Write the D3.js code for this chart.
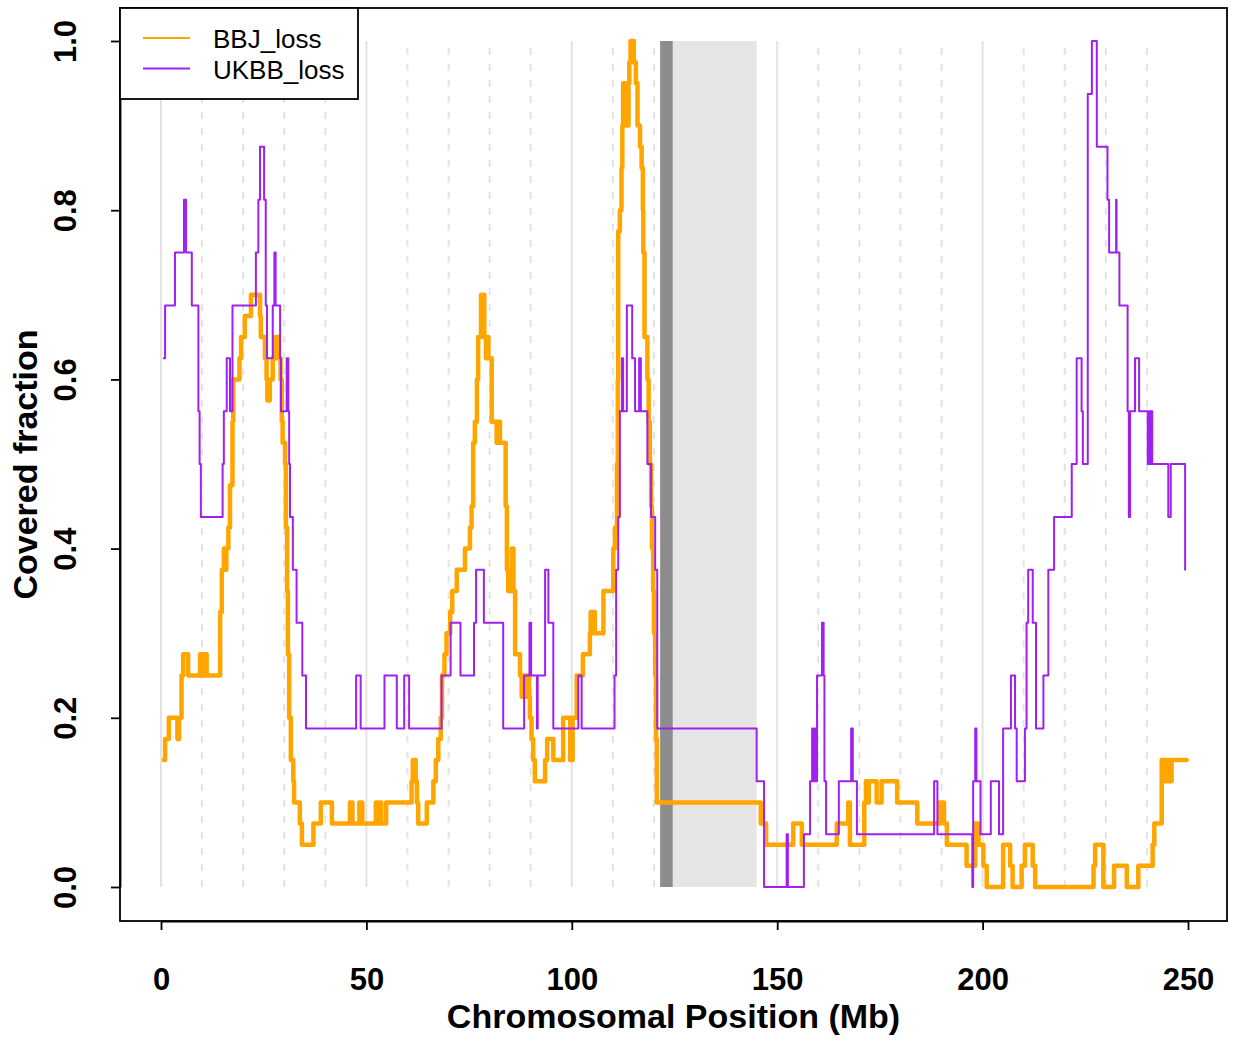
<!DOCTYPE html>
<html><head><meta charset="utf-8">
<script src="https://cdn.jsdelivr.net/npm/d3@7"></script>
<style>body{margin:0;background:#fff} text{font-family:"Liberation Sans",Arial,Helvetica,sans-serif}</style>
</head><body><svg id="c" width="1234" height="1038"></svg>
<script>
// ---- data: [position (Mb), covered fraction] step starts ----
const seriesNames = ["BBJ_loss", "UKBB_loss"];
const seriesColors = ["#FFA500", "#A020F0"];
const bbjSteps = [[0.7,0.15],[1.0,0.175],[1.9,0.2],[4.0,0.175],[4.4,0.2],[5.0,0.25],[5.4,0.275],[6.6,0.25],[9.5,0.275],[10.2,0.25],[10.7,0.275],[11.1,0.25],[14.4,0.325],[14.8,0.375],[15.3,0.4],[15.7,0.375],[15.9,0.4],[16.4,0.425],[16.8,0.475],[17.4,0.55],[17.6,0.6],[19.1,0.625],[19.5,0.65],[20.4,0.675],[21.9,0.7],[24.1,0.675],[24.3,0.65],[25.3,0.625],[25.7,0.6],[25.9,0.575],[26.5,0.6],[27.2,0.625],[27.8,0.65],[28.6,0.625],[29.1,0.6],[29.4,0.55],[29.6,0.525],[30.2,0.5],[30.4,0.425],[30.7,0.35],[30.9,0.275],[31.2,0.2],[31.6,0.15],[32.2,0.125],[32.4,0.1],[33.8,0.075],[34.3,0.05],[37.1,0.075],[38.9,0.1],[41.6,0.075],[46.0,0.1],[46.6,0.075],[48.3,0.1],[49.0,0.075],[52.3,0.1],[52.7,0.075],[53.1,0.1],[53.6,0.075],[54.8,0.1],[61.0,0.125],[61.3,0.15],[62.0,0.125],[62.3,0.1],[62.6,0.075],[64.7,0.1],[66.3,0.125],[66.9,0.15],[67.5,0.175],[68.1,0.2],[68.4,0.25],[69.0,0.275],[69.5,0.3],[70.4,0.325],[70.9,0.35],[72.0,0.375],[74.0,0.4],[75.2,0.425],[75.6,0.45],[76.0,0.525],[76.4,0.55],[76.9,0.6],[77.2,0.65],[77.9,0.7],[78.7,0.65],[79.1,0.625],[79.4,0.65],[79.7,0.625],[80.5,0.55],[81.7,0.525],[82.1,0.55],[82.5,0.525],[83.9,0.45],[84.2,0.375],[84.5,0.35],[84.7,0.375],[85.0,0.35],[85.4,0.4],[85.8,0.35],[86.2,0.275],[87.4,0.25],[87.8,0.225],[88.4,0.25],[88.6,0.225],[89.1,0.25],[89.6,0.225],[89.8,0.2],[90.2,0.175],[90.6,0.15],[91.0,0.125],[93.5,0.15],[94.0,0.175],[95.5,0.15],[97.9,0.2],[99.6,0.15],[100.2,0.2],[101.2,0.25],[102.7,0.275],[104.4,0.3],[104.6,0.325],[104.9,0.3],[105.2,0.325],[105.6,0.3],[107.7,0.35],[110.1,0.4],[110.5,0.425],[111.0,0.5],[111.2,0.6],[111.3,0.775],[111.7,0.8],[112.1,0.85],[112.3,0.9],[112.5,0.95],[113.2,0.9],[113.8,0.95],[114.0,0.975],[114.3,1.0],[115.1,0.975],[115.6,0.95],[116.0,0.9],[116.6,0.875],[117.0,0.85],[117.3,0.8],[117.4,0.75],[117.7,0.65],[118.4,0.6],[118.7,0.55],[119.0,0.5],[119.3,0.45],[119.5,0.4],[119.8,0.35],[120.0,0.3],[120.3,0.25],[120.5,0.175],[120.7,0.1],[146.0,0.075],[147.3,0.05],[153.9,0.075],[156.0,0.05],[164.5,0.075],[167.3,0.1],[167.7,0.05],[171.2,0.1],[171.6,0.125],[172.0,0.1],[172.3,0.125],[174.2,0.1],[175.4,0.125],[179.2,0.1],[184.1,0.075],[189.6,0.1],[190.6,0.075],[191.3,0.05],[196.1,0.025],[198.2,0.075],[199.0,0.05],[200.2,0.025],[201.0,0],[205.0,0.05],[206.7,0.025],[207.3,0],[209.5,0.025],[210.3,0.05],[212.2,0.025],[212.8,0],[227.0,0.025],[227.4,0.05],[229.4,0],[232.0,0.025],[235.1,0],[237.9,0.025],[241.4,0.05],[241.8,0.075],[243.6,0.15],[244.2,0.125],[244.6,0.15],[244.9,0.125],[245.4,0.15],[245.6,0.125],[246.0,0.15],[249.7,0.15]];
const ukbbSteps = [[0.7,0.625],[1.0,0.6875],[3.4,0.75],[5.6,0.8125],[6.1,0.75],[7.5,0.6875],[9.1,0.5625],[9.4,0.5],[9.7,0.4375],[15.0,0.5],[15.3,0.5625],[16.0,0.625],[16.8,0.5625],[17.4,0.6875],[23.1,0.75],[23.7,0.8125],[24.1,0.875],[25.1,0.8125],[25.5,0.6875],[25.8,0.625],[27.2,0.6875],[27.6,0.75],[27.9,0.6875],[29.0,0.625],[29.2,0.5625],[30.6,0.625],[31.0,0.5625],[31.2,0.5],[31.4,0.4375],[32.1,0.375],[33.0,0.3125],[34.4,0.25],[35.3,0.1875],[47.5,0.25],[48.6,0.1875],[54.4,0.25],[57.4,0.1875],[59.2,0.25],[60.4,0.1875],[68.3,0.25],[70.5,0.3125],[72.9,0.25],[76.2,0.3125],[76.7,0.375],[78.6,0.3125],[83.3,0.1875],[88.4,0.25],[89.7,0.3125],[90.1,0.25],[91.5,0.1875],[91.7,0.25],[93.5,0.375],[94.3,0.3125],[95.5,0.1875],[101.6,0.25],[102.4,0.1875],[110.4,0.25],[110.8,0.375],[111.3,0.4375],[111.7,0.5625],[112.2,0.625],[112.5,0.5625],[113.4,0.6875],[114.7,0.625],[115.4,0.5625],[116.4,0.625],[116.8,0.5625],[118.4,0.5],[119.3,0.4375],[120.3,0.375],[120.8,0.1875],[145.0,0.125],[146.8,0],[152.3,0.0625],[152.6,0],[156.5,0.0625],[158.0,0.125],[158.5,0.1875],[158.7,0.125],[159.0,0.1875],[159.3,0.125],[159.7,0.25],[160.9,0.3125],[161.3,0.25],[161.5,0.125],[161.9,0.0625],[165.0,0.125],[168.0,0.1875],[168.4,0.125],[169.4,0.0625],[188.2,0.125],[189.0,0.0625],[197.5,0],[197.7,0.125],[198.2,0.1875],[198.5,0.125],[199.5,0.0625],[202.0,0.125],[204.0,0.0625],[205.0,0.1875],[206.9,0.25],[207.9,0.1875],[208.3,0.125],[210.3,0.1875],[210.7,0.3125],[211.1,0.375],[212.2,0.3125],[213.0,0.1875],[214.8,0.25],[216.0,0.375],[217.4,0.4375],[221.7,0.5],[222.9,0.625],[224.1,0.5625],[224.4,0.5],[225.6,0.9375],[226.6,1.0],[227.8,0.875],[230.4,0.8125],[230.8,0.75],[232.5,0.8125],[232.6,0.75],[233.3,0.6875],[235.3,0.5625],[235.6,0.4375],[235.9,0.5625],[237.1,0.625],[238.1,0.5625],[240.2,0.5],[240.5,0.5625],[240.8,0.5],[241.0,0.5625],[241.3,0.5],[245.2,0.4375],[245.8,0.5],[249.3,0.375]];
const centromere = [121.5, 124.6];
const heterochromatin = [124.6, 145.0];
const xTicks = [0, 50, 100, 150, 200, 250];
const yTicks = [0, 0.2, 0.4, 0.6, 0.8, 1.0];
const gridPositions = d3.range(0, 250, 10);
const xTitle = "Chromosomal Position (Mb)";
const yTitle = "Covered fraction";

// ---- drawing ----
const svg = d3.select("#c");
const box = {left: 120, top: 8, right: 1227, bottom: 921};
const x = d3.scaleLinear().domain([0, 250]).range([161, 1188]);
const y = d3.scaleLinear().domain([0, 1]).range([887, 41]);

svg.append("rect").attr("width", 1234).attr("height", 1038).attr("fill", "#fff");

// grid
svg.append("g").selectAll("line").data(gridPositions).join("line")
  .attr("x1", d => x(d)).attr("x2", d => x(d))
  .attr("y1", y(0)).attr("y2", y(1))
  .attr("stroke", "#e3e3e3").attr("stroke-width", 2)
  .attr("stroke-dasharray", d => d % 50 === 0 ? null : "7,9");

// centromere / heterochromatin
svg.append("rect").attr("x", x(centromere[0])).attr("width", x(centromere[1]) - x(centromere[0]))
  .attr("y", y(1)).attr("height", y(0) - y(1)).attr("fill", "#8c8c8c");
svg.append("rect").attr("x", x(heterochromatin[0])).attr("width", x(heterochromatin[1]) - x(heterochromatin[0]))
  .attr("y", y(1)).attr("height", y(0) - y(1)).attr("fill", "#e5e5e5");

const line = d3.line().x(d => x(d[0])).y(d => y(d[1])).curve(d3.curveStepAfter);
svg.append("path").datum(bbjSteps).attr("d", line).attr("fill", "none")
  .attr("stroke", seriesColors[0]).attr("stroke-width", 4.5)
  .attr("stroke-linejoin", "round").attr("stroke-linecap", "round");
svg.append("path").datum(ukbbSteps).attr("d", line).attr("fill", "none")
  .attr("stroke", seriesColors[1]).attr("stroke-width", 2)
  .attr("stroke-linejoin", "round").attr("stroke-linecap", "round");

// box
svg.append("rect").attr("x", box.left).attr("y", box.top)
  .attr("width", box.right - box.left).attr("height", box.bottom - box.top)
  .attr("fill", "none").attr("stroke", "#000").attr("stroke-width", 1.8);

// axes
const xAxis = svg.append("g").attr("transform", `translate(0,${box.bottom})`)
  .call(d3.axisBottom(x).tickValues(xTicks).tickSize(9).tickSizeOuter(0).tickPadding(38).tickFormat(d3.format("d")));
xAxis.selectAll("path,line").attr("stroke", "#000").attr("stroke-width", 1.8);
xAxis.selectAll("text").attr("font-size", 31).attr("font-weight", "bold").attr("fill", "#000")
  .attr("font-family", "'Liberation Sans',Arial,sans-serif");

const yAxis = svg.append("g").attr("transform", `translate(${box.left},0)`)
  .call(d3.axisLeft(y).tickValues(yTicks).tickSize(9).tickSizeOuter(0).tickFormat(d3.format(".1f")));
yAxis.selectAll("path,line").attr("stroke", "#000").attr("stroke-width", 1.8);
yAxis.selectAll("text").attr("x", 0).attr("y", 0).attr("dy", 0)
  .attr("text-anchor", "middle").attr("transform", "translate(-44,0) rotate(-90)")
  .attr("font-size", 31).attr("font-weight", "bold").attr("fill", "#000")
  .attr("font-family", "'Liberation Sans',Arial,sans-serif");

svg.append("text").attr("x", (box.left + box.right) / 2).attr("y", 1028)
  .attr("text-anchor", "middle").attr("font-size", 34).attr("font-weight", "bold").text(xTitle);
svg.append("text").attr("transform", `translate(37,${(box.top + box.bottom) / 2}) rotate(-90)`)
  .attr("text-anchor", "middle").attr("font-size", 34).attr("font-weight", "bold").text(yTitle);

// legend
const lg = svg.append("g");
lg.append("rect").attr("x", 120).attr("y", 8).attr("width", 238).attr("height", 91)
  .attr("fill", "#fff").attr("stroke", "#000").attr("stroke-width", 1.8);
seriesNames.forEach((n, i) => {
  const ly = 38 + i * 30.5;
  lg.append("line").attr("x1", 143).attr("x2", 190).attr("y1", ly).attr("y2", ly)
    .attr("stroke", seriesColors[i]).attr("stroke-width", 2);
  lg.append("text").attr("x", 213).attr("y", ly + 10).attr("font-size", 26).text(n);
});
</script></body></html>
